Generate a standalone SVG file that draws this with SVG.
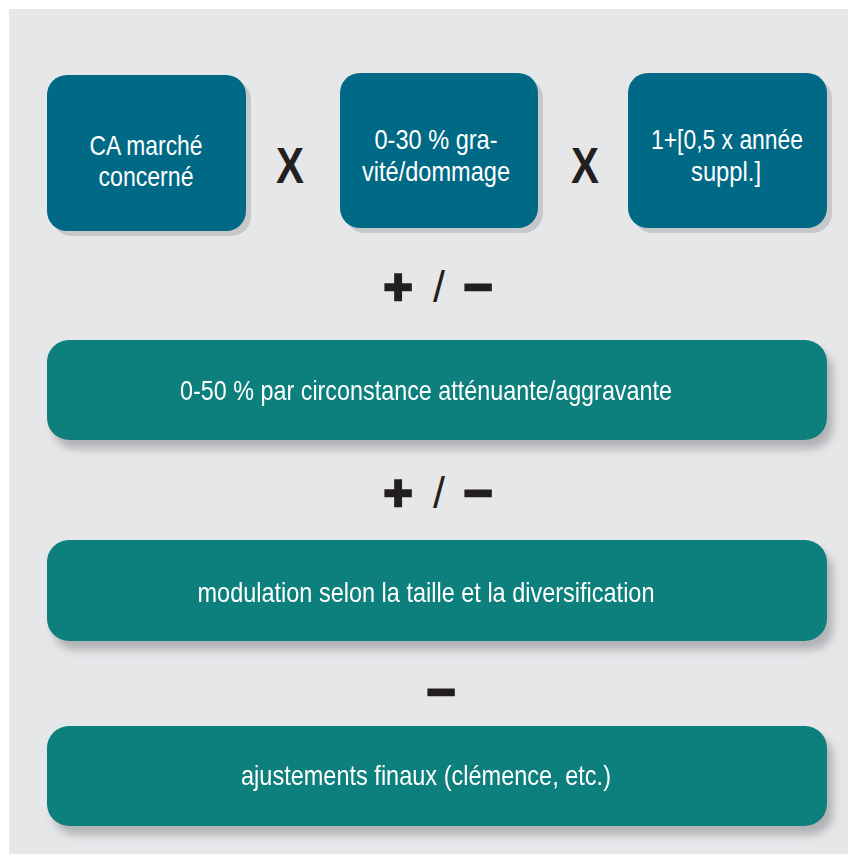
<svg xmlns="http://www.w3.org/2000/svg" width="848" height="854" viewBox="0 0 848 854">
  <defs>
    <filter id="soft" x="-10%" y="-20%" width="125%" height="160%">
      <feDropShadow dx="6" dy="9" stdDeviation="4" flood-color="#8e8f92" flood-opacity="0.6"/>
    </filter>
    <style>
      .bg { fill: #e6e7e9; }
      .blue { fill: #006985; }
      .green { fill: #0f7f7b; }
      .hard { fill: #c7c8ca; }
      .lbl { font-family: "Liberation Sans Narrow", "Liberation Sans", Arial, sans-serif; font-size: 28px; fill: #ffffff; text-anchor: middle; }
      .op { font-family: "Liberation Sans", Arial, sans-serif; font-weight: bold; fill: #231f20; text-anchor: middle; }
      .slash { font-family: "Liberation Sans", Arial, sans-serif; font-weight: normal; fill: #231f20; text-anchor: middle; font-size: 44px; }
      .thick { stroke: #231f20; stroke-width: 2.4px; }
    </style>
  </defs>
  <rect x="0" y="0" width="848" height="854" fill="#ffffff"/>
  <rect class="bg" x="9" y="9" width="839" height="845"/>

  <g id="node-ca">
    <rect class="hard" x="52" y="80" width="199" height="156" rx="20"/>
    <rect class="blue" x="47" y="75" width="199" height="156" rx="20"/>
    <text class="lbl" x="146" y="155" textLength="113" lengthAdjust="spacingAndGlyphs">CA marché</text>
    <text class="lbl" x="146" y="186" textLength="95" lengthAdjust="spacingAndGlyphs">concerné</text>
  </g>
  <g id="node-gravite">
    <rect class="hard" x="345" y="78" width="198" height="155" rx="20"/>
    <rect class="blue" x="340" y="73" width="198" height="155" rx="20"/>
    <text class="lbl" x="436" y="149" textLength="123" lengthAdjust="spacingAndGlyphs">0-30 % gra-</text>
    <text class="lbl" x="436" y="181" textLength="148" lengthAdjust="spacingAndGlyphs">vité/dommage</text>
  </g>
  <g id="node-annee">
    <rect class="hard" x="633" y="78" width="199" height="155" rx="20"/>
    <rect class="blue" x="628" y="73" width="199" height="155" rx="20"/>
    <text class="lbl" x="727" y="149" textLength="152" lengthAdjust="spacingAndGlyphs">1+[0,5 x année</text>
    <text class="lbl" x="726" y="181" textLength="70" lengthAdjust="spacingAndGlyphs">suppl.]</text>
  </g>

  <g id="operators">
    <text class="op" x="290" y="183" font-size="50" textLength="28" lengthAdjust="spacingAndGlyphs">X</text>
    <text class="op" x="585" y="183" font-size="50" textLength="28" lengthAdjust="spacingAndGlyphs">X</text>
    <text class="op thick" x="398" y="304" font-size="50">+</text>
    <text class="slash" x="439" y="302" textLength="12" lengthAdjust="spacingAndGlyphs">/</text>
    <text class="op thick" x="478" y="304" font-size="50">−</text>
    <text class="op thick" x="398" y="510" font-size="50">+</text>
    <text class="slash" x="439" y="508" textLength="12" lengthAdjust="spacingAndGlyphs">/</text>
    <text class="op thick" x="478" y="510" font-size="50">−</text>
    <text class="op thick" x="441" y="709" font-size="50">−</text>
  </g>

  <g id="node-circonstances" filter="url(#soft)">
    <rect class="green" x="47" y="340" width="780" height="100" rx="22"/>
    <text class="lbl" x="426" y="400" textLength="492" lengthAdjust="spacingAndGlyphs">0-50 % par circonstance atténuante/aggravante</text>
  </g>
  <g id="node-modulation" filter="url(#soft)">
    <rect class="green" x="47" y="540" width="780" height="101" rx="22"/>
    <text class="lbl" x="426" y="602" textLength="457" lengthAdjust="spacingAndGlyphs">modulation selon la taille et la diversification</text>
  </g>
  <g id="node-ajustements" filter="url(#soft)">
    <rect class="green" x="47" y="726" width="780" height="100" rx="22"/>
    <text class="lbl" x="426" y="785" textLength="370" lengthAdjust="spacingAndGlyphs">ajustements finaux (clémence, etc.)</text>
  </g>
</svg>
